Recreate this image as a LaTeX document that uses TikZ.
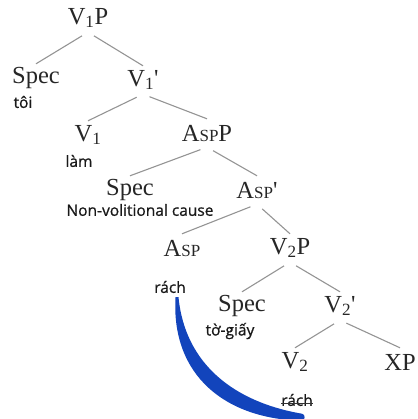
\documentclass[tikz,border=0pt]{standalone}
\usepackage{fontspec}
\setmainfont{Liberation Serif}
\newfontfamily\wordfont[FakeBold=0.8]{Open Sans}
\usetikzlibrary{calc}

\newcommand{\smcap}[1]{{\fontsize{17}{17}\selectfont #1}}
\newcommand{\aspcat}{A\smcap{SP}}
\newcommand{\barmark}{\textquotesingle}

\tikzset{
    cat/.style={font=\fontsize{24.5}{24.5}\selectfont, inner sep=0pt, minimum height=28pt, text=black!85},
    word/.style={font=\wordfont\fontsize{15.5}{15.5}\selectfont, inner sep=0pt, text=black!90},
    branch/.style={draw=black!42, line width=1.1pt, shorten <=7pt}
}

\begin{document}
\begin{tikzpicture}[x=1pt, y=-1pt]
    \useasboundingbox (0,0) rectangle (417,419);
    % categories
    \node[cat] (v1p) at (88,18) {V\textsubscript{1}P};
    \node[cat] (spec1) at (36,78) {Spec};
    \node[cat] (v1bar) at (143,80) {V\textsubscript{1}\barmark};
    \node[cat] (v1) at (88,135) {V\textsubscript{1}};
    \node[cat] (aspp) at (207,133) {\aspcat P};
    \node[cat] (spec2) at (130,190) {Spec};
    \node[cat] (aspbar) at (257,190) {\aspcat\barmark};
    \node[cat] (asp) at (182,248) {\aspcat};
    \node[cat] (v2p) at (290,248) {V\textsubscript{2}P};
    \node[cat] (spec3) at (242,306) {Spec};
    \node[cat] (v2bar) at (340,306) {V\textsubscript{2}\barmark};
    \node[cat] (v2) at (295,362) {V\textsubscript{2}};
    \node[cat] (xp) at (400,362) {XP};
    % words
    \node[word] (toi) at (23,102) {tôi};
    \node[word] (lam) at (79,161) {làm};
    \node[word] (cause) at (140,210) {Non-volitional cause};
    \node[word] (rach) at (170,287) {rách};
    \node[word] (togiay) at (230,331) {tờ-giấy};
    \node[word] (rachlow) at (297,400) {rách};
    \draw[black!80, line width=0.8pt] (rachlow.mid west) -- (rachlow.mid east);
    % branches
    \draw[branch] (v1p.south) -- (spec1.north);
    \draw[branch] (v1p.south) -- (v1bar.north);
    \draw[branch] (v1bar.south) -- (v1.north);
    \draw[branch] (v1bar.south) -- (aspp.north);
    \draw[branch] (aspp.south) -- (spec2.north);
    \draw[branch] (aspp.south) -- (aspbar.north);
    \draw[branch] (aspbar.south) -- (asp.north);
    \draw[branch] (aspbar.south) -- (v2p.north);
    \draw[branch] (v2p.south) -- (spec3.north);
    \draw[branch] (v2p.south) -- (v2bar.north);
    \draw[branch] (v2bar.south) -- (v2.north);
    \draw[branch] (v2bar.south) -- (xp.north);
    % movement arc
    \definecolor{arcblue}{RGB}{18,68,188}
    \coordinate (arcstart) at ($(rach.south)+(7,4)$);
    \coordinate (arcend) at ($(rachlow.south)+(5,11)$);
    \fill[arcblue] ($(arcstart)+(-1.5,0)$) .. controls (171,376) and (226,419) .. ($(arcend)+(0,3.5)$)
        .. controls ($(arcend)+(3.5,3)$) and ($(arcend)+(3.5,-3)$) .. ($(arcend)+(0,-3.5)$)
        .. controls (234,402) and (185,364) .. ($(arcstart)+(1.5,0)$) -- cycle;
\end{tikzpicture}
\end{document}
